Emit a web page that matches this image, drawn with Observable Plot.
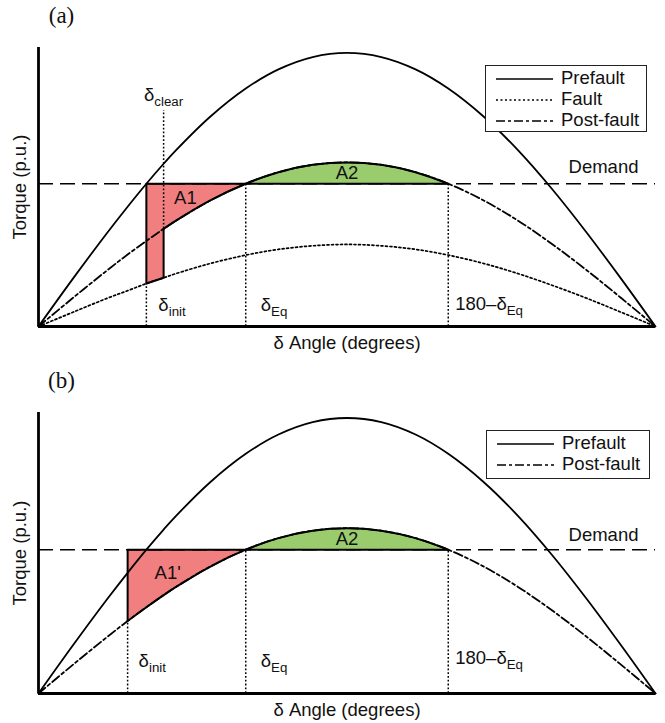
<!DOCTYPE html>
<html><head><meta charset="utf-8">
<script src="https://cdn.jsdelivr.net/npm/d3@7"></script>
<script src="https://cdn.jsdelivr.net/npm/@observablehq/plot@0.6"></script>
<style>
body{margin:0;background:#fff;font-family:"Liberation Sans",Arial,sans-serif;}
#wrap{position:relative;width:665px;height:723px;}
#wrap svg{display:block;}
.legend{position:absolute;border:1.5px solid #222;box-sizing:border-box;background:#fff;}
.legend .sw{position:absolute;}
.legend .lb{position:absolute;font-size:18.5px;line-height:20px;color:#111;white-space:nowrap;}
</style></head><body><div id="wrap"></div>
<script>
// ---- data (torque in p.u., angle in degrees) ----
const angles    = [0, 10, 20, 26, 31.47, 36.5, 40, 50, 60.46, 70, 80, 90, 100, 110, 119.54, 130, 140, 150, 160, 170, 180];
const prefault  = [0, 0.174, 0.342, 0.438, 0.522, 0.595, 0.643, 0.766, 0.870, 0.940, 0.985, 1.000, 0.985, 0.940, 0.870, 0.766, 0.643, 0.500, 0.342, 0.174, 0];
const postfault = [0, 0.104, 0.205, 0.263, 0.313, 0.357, 0.386, 0.460, 0.522, 0.564, 0.591, 0.600, 0.591, 0.564, 0.522, 0.460, 0.386, 0.300, 0.205, 0.104, 0];
const fault     = [0, 0.052, 0.103, 0.131, 0.157, 0.178, 0.193, 0.230, 0.261, 0.282, 0.295, 0.300, 0.295, 0.282, 0.261, 0.230, 0.193, 0.150, 0.103, 0.052, 0];
const demand = 0.522;
const deltaInitA = 31.47, deltaClear = 36.5, deltaEq = 60.46, deltaEq2 = 119.54, deltaInitB = 26;
const clearTop = 0.79;
const legendA = ["Prefault", "Fault", "Post-fault"];
const legendB = ["Prefault", "Post-fault"];

const table = angles.map((a, i) => ({angle: a, prefault: prefault[i], postfault: postfault[i], fault: fault[i]}));
const rows = (lo, hi) => table.filter(d => d.angle >= lo && d.angle <= hi);
const at = (a, key) => table.find(d => d.angle === a)[key];

const RED = "#f27f7f", GREEN = "#9acc6e", INK = "#000", TXT = "#111";
const DASH = {Prefault: null, Fault: "2,2.5", "Post-fault": "9,3,3,3"};
const SANS = "Liberation Sans, Arial, sans-serif";
const FS = 18.5;
const CURVE = "catmull-rom";

function commonText(tag, tagDy) {
  return [
    Plot.text([tag], {frameAnchor: "top-left", dx: 23, dy: tagDy, textAnchor: "middle", lineAnchor: "middle", fontFamily: "Liberation Serif, Times New Roman, serif", fontSize: 23, fill: TXT}),
    Plot.text(["Torque (p.u.)"], {frameAnchor: "left", rotate: -90, dx: -18, textAnchor: "middle", lineAnchor: "middle", fontSize: FS, fontFamily: SANS, fill: TXT}),
    Plot.text(["δ Angle (degrees)"], {frameAnchor: "bottom", dy: 17, textAnchor: "middle", lineAnchor: "middle", fontSize: FS, fontFamily: SANS, fill: TXT})
  ];
}
const lbl = (x, y, text, o) => Plot.text([text], {x: () => x, y: () => y, text: d => d, fontSize: FS, fontFamily: SANS, fill: TXT, lineAnchor: "middle", ...o});

function subs(svg) {
  svg.querySelectorAll("text").forEach(t => {
    const s = t.textContent;
    if (s.includes("|")) {
      const [m, sub] = s.split("|");
      t.textContent = m;
      const ts = document.createElementNS("http://www.w3.org/2000/svg", "tspan");
      ts.setAttribute("font-size", "0.72em");
      ts.setAttribute("dy", "0.32em");
      ts.textContent = sub;
      t.appendChild(ts);
    }
  });
  return svg;
}

const base = {width: 665, marginLeft: 38, marginRight: 10,
  x: {domain: [0, 180], axis: null}, y: {domain: [0, 1.02], axis: null},
  style: {fontFamily: SANS, background: "transparent", overflow: "visible"}};

// ---------------- panel (a) ----------------
const plotA = Plot.plot({...base, height: 360, marginTop: 47, marginBottom: 34,
  marks: [
    Plot.areaY(rows(deltaInitA, deltaClear), {x: "angle", y1: demand, y2: "fault", fill: RED}),
    Plot.areaY(rows(deltaClear, deltaEq), {x: "angle", y1: demand, y2: "postfault", fill: RED, curve: CURVE}),
    Plot.areaY(rows(deltaEq, deltaEq2), {x: "angle", y1: demand, y2: "postfault", fill: GREEN, curve: CURVE}),
    // dotted markers
    Plot.ruleX([deltaInitA], {y1: 0, y2: at(deltaInitA, "fault"), stroke: INK, strokeWidth: 1.5, strokeDasharray: "1.8,2"}),
    Plot.ruleX([deltaClear], {y1: at(deltaClear, "postfault"), y2: clearTop, stroke: INK, strokeWidth: 1.5, strokeDasharray: "1.8,2"}),
    Plot.ruleX([deltaEq, deltaEq2], {y1: 0, y2: demand, stroke: INK, strokeWidth: 1.5, strokeDasharray: "1.8,2"}),
    // full curves
    Plot.line(table, {x: "angle", y: "fault", curve: CURVE, stroke: INK, strokeWidth: 1.7, strokeDasharray: DASH.Fault}),
    Plot.line(table, {x: "angle", y: "postfault", curve: CURVE, stroke: INK, strokeWidth: 1.8, strokeDasharray: DASH["Post-fault"]}),
    Plot.ruleY([demand], {x1: 0, x2: 180, stroke: INK, strokeWidth: 1.6, strokeDasharray: "15,7"}),
    // solid boundaries
    Plot.ruleY([demand], {x1: deltaInitA, x2: deltaEq2, stroke: INK, strokeWidth: 2}),
    Plot.line(rows(deltaInitA, deltaClear), {x: "angle", y: "fault", stroke: INK, strokeWidth: 2}),
    Plot.line(rows(deltaClear, deltaEq2), {x: "angle", y: "postfault", curve: CURVE, stroke: INK, strokeWidth: 2}),
    Plot.ruleX([deltaInitA], {y1: at(deltaInitA, "fault"), y2: demand, stroke: INK, strokeWidth: 2}),
    Plot.ruleX([deltaClear], {y1: at(deltaClear, "fault"), y2: at(deltaClear, "postfault"), stroke: INK, strokeWidth: 2}),
    Plot.line(table, {x: "angle", y: "prefault", curve: CURVE, stroke: INK, strokeWidth: 1.8}),
    // axes
    Plot.ruleX([0], {y1: 0, y2: 1.02, stroke: INK, strokeWidth: 2.8}),
    Plot.ruleY([0], {x1: 0, x2: 180, stroke: INK, strokeWidth: 2.8}),
    // labels
    ...commonText("(a)", -32),
    lbl(deltaClear, clearTop, "δ|clear", {textAnchor: "middle", dy: -15}),
    lbl(deltaInitA, 0, "δ|init", {textAnchor: "start", dx: 12, dy: -21}),
    lbl(deltaEq, 0, "δ|Eq", {textAnchor: "start", dx: 15, dy: -21}),
    lbl(deltaEq2, 0, "180–δ|Eq", {textAnchor: "start", dx: 7, dy: -22}),
    lbl(deltaInitA, demand, "A1", {textAnchor: "middle", dx: 39, dy: 14}),
    lbl(90, demand, "A2", {textAnchor: "middle", dy: -11}),
    lbl(180, demand, "Demand", {textAnchor: "end", dx: -17, dy: -17})
  ]});

// ---------------- panel (b) ----------------
const plotB = Plot.plot({...base, height: 363, marginTop: 52, marginBottom: 30,
  marks: [
    Plot.areaY(rows(deltaInitB, deltaEq), {x: "angle", y1: demand, y2: "postfault", fill: RED, curve: CURVE}),
    Plot.areaY(rows(deltaEq, deltaEq2), {x: "angle", y1: demand, y2: "postfault", fill: GREEN, curve: CURVE}),
    Plot.ruleX([deltaInitB], {y1: 0, y2: at(deltaInitB, "postfault"), stroke: INK, strokeWidth: 1.5, strokeDasharray: "1.8,2"}),
    Plot.ruleX([deltaEq, deltaEq2], {y1: 0, y2: demand, stroke: INK, strokeWidth: 1.5, strokeDasharray: "1.8,2"}),
    Plot.line(table, {x: "angle", y: "postfault", curve: CURVE, stroke: INK, strokeWidth: 1.8, strokeDasharray: DASH["Post-fault"]}),
    Plot.ruleY([demand], {x1: 0, x2: 180, stroke: INK, strokeWidth: 1.6, strokeDasharray: "15,7"}),
    Plot.ruleY([demand], {x1: deltaInitB, x2: deltaEq2, stroke: INK, strokeWidth: 2}),
    Plot.line(rows(deltaInitB, deltaEq2), {x: "angle", y: "postfault", curve: CURVE, stroke: INK, strokeWidth: 2}),
    Plot.ruleX([deltaInitB], {y1: at(deltaInitB, "postfault"), y2: demand, stroke: INK, strokeWidth: 2}),
    Plot.line(table, {x: "angle", y: "prefault", curve: CURVE, stroke: INK, strokeWidth: 1.8}),
    Plot.ruleX([0], {y1: 0, y2: 1.02, stroke: INK, strokeWidth: 2.8}),
    Plot.ruleY([0], {x1: 0, x2: 180, stroke: INK, strokeWidth: 2.8}),
    ...commonText("(b)", -32),
    lbl(deltaInitB, 0, "δ|init", {textAnchor: "start", dx: 11, dy: -32}),
    lbl(deltaEq, 0, "δ|Eq", {textAnchor: "start", dx: 15, dy: -32}),
    lbl(deltaEq2, 0, "180–δ|Eq", {textAnchor: "start", dx: 7, dy: -35}),
    lbl(deltaInitB, demand, "A1'", {textAnchor: "middle", dx: 40, dy: 23}),
    lbl(90, demand, "A2", {textAnchor: "middle", dy: -11}),
    lbl(180, demand, "Demand", {textAnchor: "end", dx: -17, dy: -15})
  ]});

const wrap = document.getElementById("wrap");
wrap.appendChild(subs(plotA));
wrap.appendChild(subs(plotB));

function legend(items, left, top, w, h, rowYs) {
  const box = document.createElement("div");
  box.className = "legend";
  Object.assign(box.style, {left: left + "px", top: top + "px", width: w + "px", height: h + "px"});
  items.forEach((name, i) => {
    const sw = document.createElementNS("http://www.w3.org/2000/svg", "svg");
    sw.setAttribute("class", "sw"); sw.setAttribute("width", 58); sw.setAttribute("height", 6);
    sw.style.left = "10px"; sw.style.top = (rowYs[i] - 3) + "px";
    const ln = document.createElementNS("http://www.w3.org/2000/svg", "line");
    ln.setAttribute("x1", 0); ln.setAttribute("x2", 57); ln.setAttribute("y1", 3); ln.setAttribute("y2", 3);
    ln.setAttribute("stroke", "#000"); ln.setAttribute("stroke-width", 1.6);
    if (DASH[name]) ln.setAttribute("stroke-dasharray", DASH[name]);
    sw.appendChild(ln); box.appendChild(sw);
    const t = document.createElement("div");
    t.className = "lb"; t.textContent = name;
    t.style.left = "75px"; t.style.top = (rowYs[i] - 11) + "px";
    box.appendChild(t);
  });
  wrap.appendChild(box);
}
legend(legendA, 485, 65, 162, 67, [13, 34, 55]);
legend(legendB, 486, 430, 164, 49, [13, 34]);
</script></body></html>
